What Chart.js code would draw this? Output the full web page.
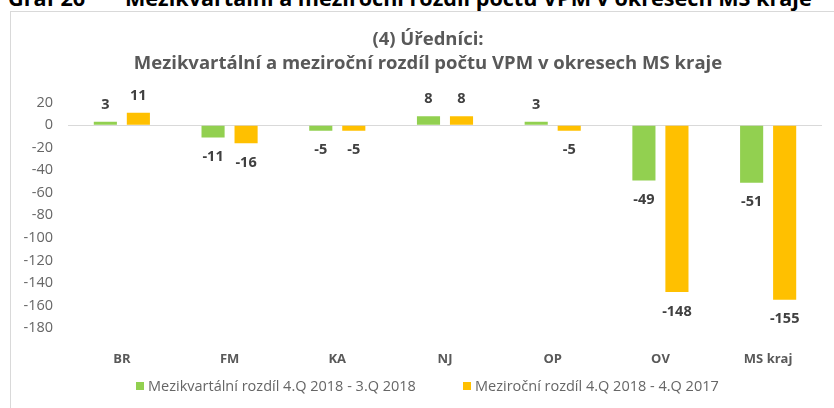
<!DOCTYPE html>
<html><head><meta charset="utf-8">
<script src="https://cdn.jsdelivr.net/npm/chart.js@4"></script>
<style>
html,body{margin:0;padding:0;width:834px;height:408px;overflow:hidden;background:#fff;}
.cap{position:absolute;top:-13.5px;font:bold 21.6px "Open Sans", sans-serif;color:#000;white-space:nowrap;line-height:22px;}
#frame{position:absolute;left:10px;top:11px;width:850px;height:420px;border:1px solid #d9d9d9;box-sizing:border-box;}
#wrap{position:absolute;left:11px;top:12px;width:834px;height:396px;}
.leg{position:absolute;top:376px;font:14.5px "Open Sans", sans-serif;color:#666;white-space:nowrap;line-height:20px;}
.leg i{display:inline-block;width:8px;height:8px;margin-right:4px;vertical-align:1px;}
</style></head>
<body>
<div class="cap" style="left:8px">Graf 26</div>
<div class="cap" style="left:125px">Mezikvartální a meziroční rozdíl počtu VPM v okresech MS kraje</div>
<div id="frame"></div>
<div id="wrap"><canvas id="c" width="834" height="396"></canvas></div>
<div id="leg1" class="leg" style="left:136px"></div>
<div id="leg2" class="leg" style="left:463px"></div>
<script>
const categories = ['BR','FM','KA','NJ','OP','OV','MS kraj'];
const quarterDiff = [3,-11,-5,8,3,-49,-51];
const yearDiff = [11,-16,-5,8,-5,-148,-155];
const seriesNames = ['Mezikvartální rozdíl 4.Q 2018 - 3.Q 2018','Meziroční rozdíl 4.Q 2018 - 4.Q 2017'];
const titleLines = ['(4) Úředníci:','Mezikvartální a meziroční rozdíl počtu VPM v okresech MS kraje'];
const yMin = -180, yMax = 20, yStep = 20;
const colors = ['#92D050','#FFC000'];

document.getElementById('leg1').innerHTML = '<i style="background:'+colors[0]+'"></i>'+seriesNames[0];
document.getElementById('leg2').innerHTML = '<i style="background:'+colors[1]+'"></i>'+seriesNames[1];

const valueLabels = {
  id:'valueLabels',
  afterDatasetsDraw(chart){
    const ctx = chart.ctx;
    ctx.save();
    ctx.font = 'bold 14.5px "Open Sans", sans-serif';
    ctx.fillStyle = '#404040';
    ctx.textAlign = 'center';
    ctx.textBaseline = 'middle';
    chart.data.datasets.forEach((ds,i)=>{
      chart.getDatasetMeta(i).data.forEach((bar,j)=>{
        const v = ds.data[j];
        const y = v >= 0 ? bar.y - 17 : bar.y + 19.5;
        ctx.fillText(String(v), bar.x, y);
      });
    });
    ctx.restore();
  }
};

new Chart(document.getElementById('c'), {
  type:'bar',
  data:{
    labels:categories,
    datasets:[
      {label:seriesNames[0], data:quarterDiff, backgroundColor:colors[0]},
      {label:seriesNames[1], data:yearDiff, backgroundColor:colors[1]}
    ]
  },
  options:{
    responsive:false,
    animation:false,
    categoryPercentage:0.613,
    barPercentage:0.70,
    layout:{padding:0},
    plugins:{
      legend:{display:false},
      tooltip:{enabled:false},
      title:{display:true,text:titleLines,color:'#595959',
        font:{family:'"Open Sans", sans-serif',size:18.5,weight:'bold',lineHeight:1.27},
        padding:{top:16,bottom:27.7}}
    },
    scales:{
      x:{
        grid:{display:false},
        border:{display:false},
        ticks:{color:'#595959',font:{family:'"Open Sans", sans-serif',size:13,weight:'bold'},padding:15},
        afterFit(s){ s.height = 80; }
      },
      y:{
        min:yMin,max:yMax,
        ticks:{stepSize:yStep,color:'#666',font:{family:'"Open Sans", sans-serif',size:14.5},padding:15},
        grid:{drawTicks:false,color:c=> (c.tick && c.tick.value===0) ? '#d9d9d9' : 'rgba(0,0,0,0)'},
        border:{display:false},
        afterFit(s){ s.width = 57; }
      },
      yRight:{
        position:'right',
        min:yMin,max:yMax,
        ticks:{display:false},
        grid:{display:false,drawTicks:false},
        border:{display:false},
        afterFit(s){ s.width = 23; }
      }
    }
  },
  plugins:[valueLabels]
});
</script>
</body></html>
